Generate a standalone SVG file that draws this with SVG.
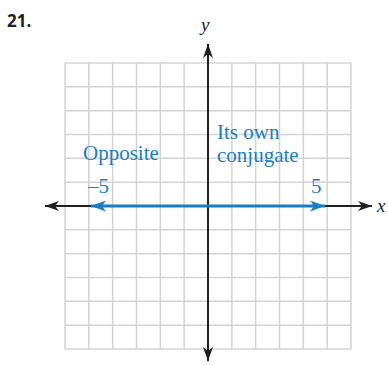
<svg xmlns="http://www.w3.org/2000/svg" width="388" height="365" viewBox="0 0 388 365">
<style>
.grid{stroke:#d3d3d3;stroke-width:1.5;fill:none}
.axis{stroke:#231f20;stroke-width:2;fill:none}
.blue{stroke:#1a7dc3;stroke-width:3;fill:none}
.lbl{font-family:"Liberation Serif","Times New Roman",serif;font-size:21px;fill:#1a7dc3}
.var{font-family:"Liberation Serif","Times New Roman",serif;font-size:19px;font-style:italic;fill:#231f20}
.num{font-family:"Open Sans","Liberation Sans",sans-serif;font-size:17px;font-weight:bold;fill:#231f20}
</style>
<defs>
<marker id="ak" markerUnits="userSpaceOnUse" markerWidth="16" markerHeight="12" viewBox="-15 -6 16 12" refX="0" refY="0" orient="auto">
<path d="M0,0 L-14,-5 L-10,0 L-14,5 Z" fill="#231f20"/>
</marker>
<marker id="ab" markerUnits="userSpaceOnUse" markerWidth="17" markerHeight="12" viewBox="-16 -6 17 12" refX="0" refY="0" orient="auto">
<path d="M0,0 L-15,-5.5 L-11,0 L-15,5.5 Z" fill="#1a7dc3"/>
</marker>
</defs>
<text class="num" x="7" y="27">21.</text>
<g id="grid">
<path class="grid" d="M65,63V349M88.83,63V349M112.67,63V349M136.5,63V349M160.33,63V349M184.17,63V349M231.83,63V349M255.67,63V349M279.5,63V349M303.33,63V349M327.17,63V349M351,63V349M65,63H351M65,86.83H351M65,110.67H351M65,134.5H351M65,158.33H351M65,182.17H351M65,229.83H351M65,253.67H351M65,277.5H351M65,301.33H351M65,325.17H351M65,349H351"/>
</g>
<g id="connectors">
<line class="axis" x1="208" y1="206" x2="45" y2="206" marker-end="url(#ak)"/>
<line class="axis" x1="208" y1="206" x2="372" y2="206" marker-end="url(#ak)"/>
<line class="axis" x1="208" y1="206" x2="208" y2="44" marker-end="url(#ak)"/>
<line class="axis" x1="208" y1="206" x2="208" y2="361" marker-end="url(#ak)"/>
<line class="blue" x1="208" y1="206" x2="91" y2="206" marker-end="url(#ab)"/>
<line class="blue" x1="208" y1="206" x2="325" y2="206" marker-end="url(#ab)"/>
</g>
<g id="labels">
<text class="var" x="201" y="31">y</text>
<text class="var" x="377" y="212">x</text>
<text class="lbl" x="83" y="160">Opposite</text>
<text class="lbl" x="217" y="139">Its own</text>
<text class="lbl" x="217" y="162">conjugate</text>
<text class="lbl" x="88" y="193">–5</text>
<text class="lbl" x="311" y="193">5</text>
</g>
</svg>
